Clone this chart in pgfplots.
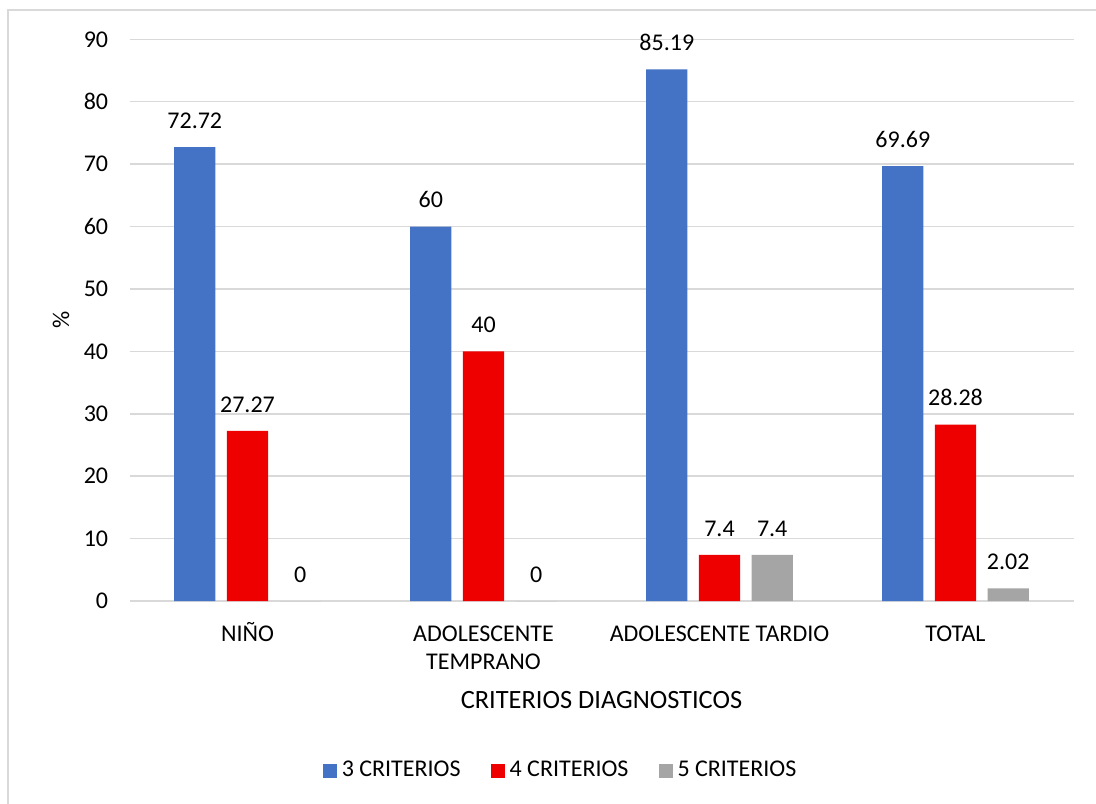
\documentclass[border=0pt]{standalone}
\usepackage{fontspec}
\setmainfont{Carlito}
\usepackage{pgfplots}
\pgfplotsset{compat=1.18}
\definecolor{cblue}{HTML}{4472C4}
\definecolor{cred}{HTML}{EE0000}
\definecolor{cgray}{HTML}{A5A5A5}
\definecolor{cgrid}{HTML}{D9D9D9}
\begin{document}
\fontsize{12}{14.4}\selectfont
\begin{tikzpicture}[font=\fontsize{12}{14.4}\selectfont]
\useasboundingbox (-64.75pt,-101pt) rectangle (483.25pt,300.5pt);
\draw[cgrid,line width=0.75pt] (-60.75pt,-110pt) -- (-60.75pt,295.5pt) -- (490pt,295.5pt);
\begin{axis}[
  at={(0,0)}, anchor=south west,
  scale only axis, width=472pt, height=280.85pt,
  xmin=-0.5, xmax=3.5, ymin=0, ymax=90,
  ybar=5.7pt, bar width=20.65pt,
  /pgf/number format/assume math mode=true,
  axis lines*=left,
  x axis line style={cgrid, line width=0.75pt},
  y axis line style={draw=none},
  tick style={draw=none},
  xtick={0,1,2,3},
  xticklabels={\strut NIÑO, \strut ADOLESCENTE\\TEMPRANO, \strut ADOLESCENTE TARDIO, \strut TOTAL},
  xticklabel style={align=center, anchor=north, inner sep=0pt, yshift=-5.5pt},
  ytick={0,10,...,90},
  yticklabel style={anchor=east, inner sep=0pt, xshift=-10.5pt},
  ymajorgrids, major grid style={cgrid, line width=0.75pt},
  xlabel={CRITERIOS DIAGNOSTICOS},
  xlabel style={at={(axis description cs:0.5,-0.1916)}, anchor=base, inner sep=0pt, font=\fontsize{13.2}{15.8}\selectfont},
  ylabel={\%},
  ylabel style={at={(axis description cs:-0.0725,0.5)}, anchor=center, rotate=0, inner sep=0pt},
  nodes near coords,
  nodes near coords style={inner sep=0pt, anchor=south, yshift=9pt, text=black},
  legend columns=3,
  legend style={at={(axis description cs:0.4556,-0.3025)}, anchor=center, draw=none, fill=none,
    inner sep=0pt, nodes={inner sep=0pt},
    /tikz/every odd column/.append style={column sep=2.5pt},
    /tikz/every even column/.append style={column sep=15pt}},
  every axis plot post/.append style={legend image code/.code={\fill[##1,draw=none] (0pt,-3.5pt) rectangle (7pt,3.5pt);}},
]
\addplot[fill=cblue, draw=none] coordinates {(0,72.72) (1,60) (2,85.19) (3,69.69)};
\addplot[fill=cred, draw=none] coordinates {(0,27.27) (1,40) (2,7.4) (3,28.28)};
\addplot[fill=cgray, draw=none] coordinates {(0,0) (1,0) (2,7.4) (3,2.02)};
\legend{3 CRITERIOS, 4 CRITERIOS, 5 CRITERIOS}
\end{axis}
\end{tikzpicture}
\end{document}
